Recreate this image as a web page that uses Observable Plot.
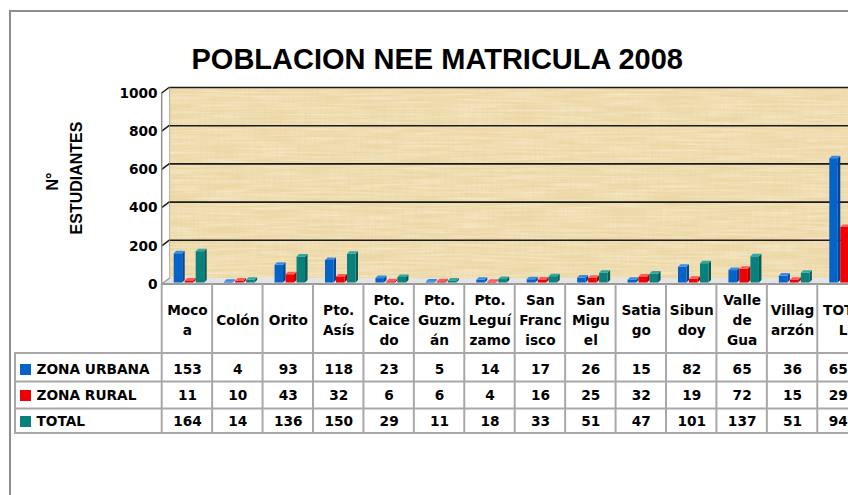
<!DOCTYPE html>
<html><head><meta charset="utf-8">
<script src="https://cdn.jsdelivr.net/npm/d3@7"></script>
<script src="https://cdn.jsdelivr.net/npm/@observablehq/plot@0.6"></script>
<style>
html,body{margin:0;padding:0;background:#fff;overflow:hidden;width:848px;height:495px;}
#wrap{position:relative;width:848px;height:495px;overflow:hidden;}
#frame{position:absolute;left:9px;top:10px;width:920px;height:600px;border:2px solid #8e8e8e;box-sizing:border-box;}
#chart{position:absolute;left:0;top:0;width:880px;}
#chart svg{max-width:none !important;width:880px;height:495px;}
</style></head>
<body><div id="wrap"><div id="frame"></div><div id="chart"></div></div>
<script>
const title = "POBLACION NEE MATRICULA 2008";
const yTitle = ["N°", "ESTUDIANTES"];
const categories = ["Moco\na","Colón","Orito","Pto.\nAsís","Pto.\nCaice\ndo","Pto.\nGuzm\nán","Pto.\nLeguí\nzamo","San\nFranc\nisco","San\nMigu\nel","Satia\ngo","Sibun\ndoy","Valle\nde\nGua","Villag\narzón","TOTA\nL"];
const seriesNames = ["ZONA URBANA","ZONA RURAL","TOTAL"];
const urbana = [153,4,93,118,23,5,14,17,26,15,82,65,36,651];
const rural  = [11,10,43,32,6,6,4,16,25,32,19,72,15,291];
const total  = [164,14,136,150,29,11,18,33,51,47,101,137,51,942];
const yTicks = [0,200,400,600,800,1000];

const seriesValues = [urbana, rural, total];
const front = ["#0563C8","#F00000","#08807C"];
const side  = ["#03479A","#B00000","#055C59"];
const topC  = ["#3B8BE6","#FF5A5A","#2FA8A2"];

const W = 880, H = 495;
const colW = 50.43, x0px = 161.7;
const FONT = "DejaVu Sans, Verdana, sans-serif";
const NARROW = "Liberation Sans Narrow, Arial Narrow, sans-serif";

const DEPTH_X = 8, DEPTH_Y = 6;
const BAR_DY = 4.5;
const BAR_OFF = 12, BAR_STEP = 11, BAR_W = 8.5, BAR_D = 2.5;

function wallDecor(index, scales) {
  const {x, y} = scales;
  const g = d3.create("svg:g");
  const left = x(0), right = x(14);
  const defs = g.append("defs");
  const f1 = defs.append("filter").attr("id", "fibV").attr("x", 0).attr("y", 0).attr("width", "100%").attr("height", "100%");
  f1.append("feTurbulence").attr("type", "fractalNoise").attr("baseFrequency", "0.6 0.03").attr("numOctaves", 2).attr("seed", 7);
  f1.append("feColorMatrix").attr("type", "matrix").attr("values", "0 0 0 0 0.80  0 0 0 0 0.66  0 0 0 0 0.40  0.9 0 0 0 -0.33");
  const f2 = defs.append("filter").attr("id", "fibH").attr("x", 0).attr("y", 0).attr("width", "100%").attr("height", "100%");
  f2.append("feTurbulence").attr("type", "fractalNoise").attr("baseFrequency", "0.02 0.5").attr("numOctaves", 2).attr("seed", 3);
  f2.append("feColorMatrix").attr("type", "matrix").attr("values", "0 0 0 0 1  0 0 0 0 0.97  0 0 0 0 0.86  0.9 0 0 0 -0.3");
  const wx = left + DEPTH_X, wy = y(1000), ww = right + 40 - wx, wh = y(0) - y(1000);
  g.append("rect").attr("x", wx).attr("y", wy).attr("width", ww).attr("height", wh).attr("filter", "url(#fibH)");
  g.append("rect").attr("x", wx).attr("y", wy).attr("width", ww).attr("height", wh).attr("filter", "url(#fibV)");
  g.append("polygon")
    .attr("points", [[left, y(0)+DEPTH_Y],[right+40, y(0)+DEPTH_Y],[right+40, y(0)],[left+DEPTH_X, y(0)]].join(" "))
    .attr("fill", "#e4e4e4");
  for (const t of yTicks) {
    g.append("line")
      .attr("x1", left).attr("y1", y(t)+DEPTH_Y)
      .attr("x2", left+DEPTH_X).attr("y2", y(t))
      .attr("stroke", t === 0 ? "#9a9a9a" : "#1a1a1a").attr("stroke-width", 1.5);
  }
  g.append("line")
    .attr("x1", left).attr("x2", left)
    .attr("y1", y(1000)+DEPTH_Y).attr("y2", y(0)+DEPTH_Y+1)
    .attr("stroke", "#8f8f8f").attr("stroke-width", 1.5);
  g.append("line")
    .attr("x1", left+DEPTH_X).attr("x2", left+DEPTH_X)
    .attr("y1", y(1000)).attr("y2", y(0))
    .attr("stroke", "#b9a98a").attr("stroke-width", 1);
  g.append("line")
    .attr("x1", left).attr("x2", right+40)
    .attr("y1", y(0)+DEPTH_Y).attr("y2", y(0)+DEPTH_Y)
    .attr("stroke", "#9a9a9a").attr("stroke-width", 2);
  return g.node();
}

function bars3d(index, scales) {
  const {x, y} = scales;
  const g = d3.create("svg:g");
  const base = y(0) + BAR_DY;
  seriesValues.forEach((vals, si) => {
    vals.forEach((v, i) => {
      const bx = x(i) + BAR_OFF + si * BAR_STEP;
      const top = y(v) + BAR_DY;
      g.append("polygon")
        .attr("points", [[bx+BAR_W, top],[bx+BAR_W+BAR_D, top-BAR_D],[bx+BAR_W+BAR_D, base-BAR_D],[bx+BAR_W, base]].join(" "))
        .attr("fill", side[si]);
      g.append("rect").attr("x", bx).attr("y", top).attr("width", BAR_W).attr("height", Math.max(0, base-top)).attr("fill", front[si]);
      g.append("polygon")
        .attr("points", [[bx, top],[bx+BAR_W, top],[bx+BAR_W+BAR_D, top-BAR_D],[bx+BAR_D, top-BAR_D]].join(" "))
        .attr("fill", topC[si]);
    });
  });
  return g.node();
}

const HEAD_TOP = 6, ROW_LINES = [75, 103.5, 130.5, 155];
const ROW_CENTERS = [91.5, 117.5, 143.5];
const LEG_LEFT = 15;

function tableGrid(index, scales) {
  const {x, y} = scales;
  const wrap = d3.create("svg:g");
  const g = wrap.append("g").attr("stroke", "#a8a8a8").attr("stroke-width", 2);
  const y0 = y(0);
  for (let i = 0; i <= 14; i++) {
    g.append("line").attr("x1", x(i)).attr("x2", x(i))
      .attr("y1", y0 + HEAD_TOP).attr("y2", y0 + ROW_LINES[3]);
  }
  g.append("line").attr("x1", LEG_LEFT).attr("x2", LEG_LEFT)
    .attr("y1", y0 + ROW_LINES[0]).attr("y2", y0 + ROW_LINES[3]);
  for (const r of ROW_LINES) {
    g.append("line").attr("x1", LEG_LEFT - 1).attr("x2", x(14)+10)
      .attr("y1", y0 + r).attr("y2", y0 + r);
  }
  seriesNames.forEach((s, si) => {
    wrap.append("rect").attr("x", 20).attr("y", y0 + ROW_CENTERS[si] - 5.5)
      .attr("width", 11).attr("height", 11).attr("fill", front[si]);
  });
  return wrap.node();
}

const rowMarks = [];
seriesValues.forEach((vals, si) => {
  rowMarks.push(Plot.text(vals, {x: (d, i) => i + 0.5, y: () => 0, text: d => String(d), dy: ROW_CENTERS[si], fill: "#000"}));
  rowMarks.push(Plot.text([seriesNames[si]], {x: () => 0, y: () => 0, text: d => d, textAnchor: "start", dx: 36 - x0px, dy: ROW_CENTERS[si], fill: "#000"}));
});

const chart = Plot.plot({
  width: W, height: H,
  marginLeft: x0px, marginRight: W - (x0px + 14*colW),
  marginTop: 87, marginBottom: H - 278,
  x: {domain: [0, 14], axis: null},
  y: {domain: [0, 1000], axis: null},
  style: {fontFamily: FONT, fontWeight: "bold", fontSize: "13.7px", background: "transparent", overflow: "visible", color: "#000"},
  marks: [
    Plot.frame({fill: "#edd8a6", stroke: null, dx: DEPTH_X, insetRight: -40}),
    wallDecor,
    Plot.ruleY(yTicks.filter(t => t > 0), {y: d => d, stroke: "#1a1a1a", strokeWidth: 1.6, dx: DEPTH_X, insetRight: -40}),
    bars3d,
    tableGrid,
    Plot.text(yTicks, {x: () => 0, y: d => d, text: d => String(d), textAnchor: "end", dx: -4.7, dy: DEPTH_Y, fill: "#000"}),
    Plot.text(categories, {x: (d, i) => i + 0.5, y: () => 0, text: d => d, dy: 40.5, lineHeight: 20/13.7, lineAnchor: "middle", fill: "#000"}),
    ...rowMarks,
    Plot.text([title], {frameAnchor: "top-left", text: d => d, dx: 436.7 - x0px, dy: 47.8 - 87, textAnchor: "middle", fontSize: 29, fontFamily: NARROW, fontWeight: "bold", fill: "#000"}),
    Plot.text([yTitle[0]], {frameAnchor: "top-left", text: d => d, rotate: -90, textAnchor: "middle", dx: 46 - x0px, dy: 181 - 87, fontSize: 16, fontFamily: NARROW, fontWeight: "bold", fill: "#000"}),
    Plot.text([yTitle[1]], {frameAnchor: "top-left", text: d => d, rotate: -90, textAnchor: "middle", dx: 69.7 - x0px, dy: 177.5 - 87, fontSize: 16, fontFamily: NARROW, fontWeight: "bold", fill: "#000"})
  ]
});
document.getElementById("chart").appendChild(chart);
</script>
</body></html>
